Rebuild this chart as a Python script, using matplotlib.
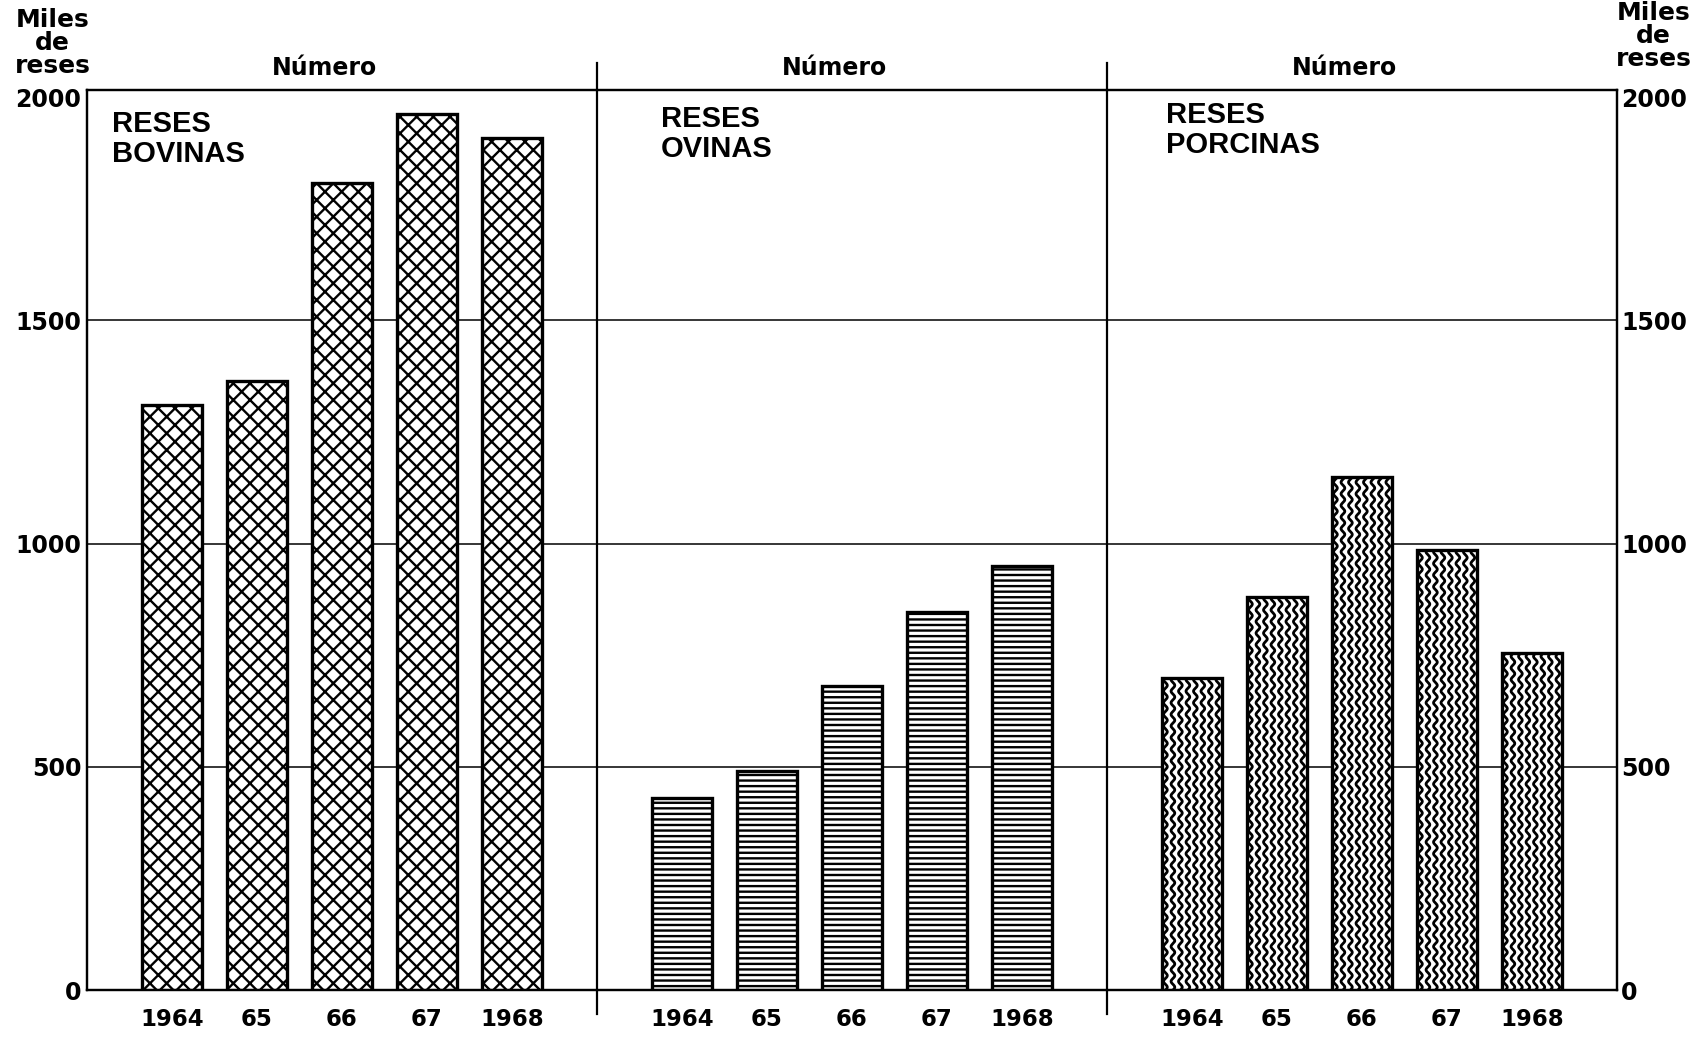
import numpy as np
import matplotlib
matplotlib.use("Agg")
from matplotlib import pyplot as plt
from matplotlib import transforms

years = ["1964", "65", "66", "67", "1968"]
bovinas = [1310, 1365, 1808, 1962, 1908]
ovinas = [430, 490, 680, 846, 950]
porcinas = [700, 880, 1150, 985, 755]
panel_names = ["RESES\nBOVINAS", "RESES\nOVINAS", "RESES\nPORCINAS"]
y_ticks = [0, 500, 1000, 1500, 2000]

plt.rcParams["font.family"] = ["DejaVu Sans"]
plt.rcParams["font.weight"] = "bold"
plt.rcParams["hatch.linewidth"] = 1.7

fig = plt.figure(figsize=(17.01, 10.40), dpi=100)
ax = fig.add_axes([0.051, 0.048, 0.8995, 0.865])
ax.set_xlim(0, 18)
ax.set_ylim(0, 2015)

for y in y_ticks[1:-1]:
    ax.axhline(y, color="black", lw=1.1, zorder=1)

series = [bovinas, ovinas, porcinas]
hatches = ["xx", "---", None]
name_x = [0.3, 0.75, 0.7]
name_y = [1972, 1982, 1992]
trans = transforms.blended_transform_factory(ax.transData, ax.transAxes)
ticks_x = []
for i, (vals, hatch) in enumerate(zip(series, hatches)):
    x = 6 * i + np.arange(1, len(years) + 1)
    ticks_x.extend(x)
    bars = ax.bar(x, vals, width=0.7, color="white", edgecolor="black",
                  linewidth=2.4, hatch=hatch, zorder=3)
    if hatch is None:
        # wavy vertical hatching, clipped to each bar
        for b in bars:
            x0, w, h = b.get_x(), b.get_width(), b.get_height()
            yy = np.linspace(0, h, 800)
            for xc in np.arange(x0 + 0.04, x0 + w, 0.088):
                ln, = ax.plot(xc + 0.022 * np.sin(2 * np.pi * yy / 26), yy,
                              color="black", lw=2.0, zorder=3.5)
                ln.set_clip_path(b)
    ax.text(6 * i + name_x[i], name_y[i], panel_names[i], ha="left", va="top",
            family="Liberation Sans", fontweight="bold", fontsize=21, linespacing=1.1)
    ax.text(6 * i + 2.8, 1.012, "Número", ha="center", va="bottom",
            fontsize=17, transform=trans)

# separators between panels
for xs in [6, 12]:
    ax.plot([xs, xs], [-0.027, 1.03], color="black", lw=1.6, transform=trans, clip_on=False)

ax.set_xticks(ticks_x)
ax.set_xticklabels(years * 3, fontsize=16.5, fontweight="bold")
ax.tick_params(axis="x", length=0, pad=13)
ax.set_yticks(y_ticks)
ax.set_yticklabels([str(v) for v in y_ticks], fontsize=17, fontweight="bold")
ax.tick_params(axis="y", length=0, pad=4)

ax2 = ax.twinx()
ax2.set_ylim(ax.get_ylim())
ax2.set_yticks(y_ticks)
ax2.set_yticklabels([str(v) for v in y_ticks], fontsize=17, fontweight="bold")
ax2.tick_params(axis="y", length=0, pad=3)

for a in (ax, ax2):
    for s in a.spines.values():
        s.set_linewidth(1.6)

fig.text(0.031, 0.992, "Miles\nde\nreses", ha="center", va="top",
         fontsize=18, linespacing=0.95)
fig.text(0.972, 0.999, "Miles\nde\nreses", ha="center", va="top",
         fontsize=18, linespacing=0.95)

fig.savefig("out.png", dpi=100, facecolor="white")
